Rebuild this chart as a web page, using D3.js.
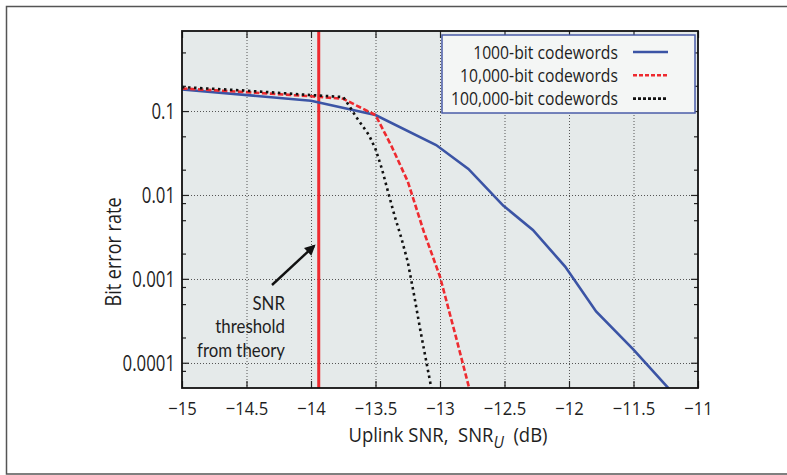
<!DOCTYPE html>
<html>
<head>
<meta charset="utf-8">
<script src="https://cdn.jsdelivr.net/npm/d3@7"></script>
<style>
  html, body { margin: 0; padding: 0; background: #fff; }
  svg { display: block; }
  text { font-family: 'Open Sans', 'Noto Sans', sans-serif; fill: #1e1e1e; }
</style>
</head>
<body>
<svg id="chart" width="787" height="475"></svg>
<script>
// ---- data ----
const xTicks = [-15, -14.5, -14, -13.5, -13, -12.5, -12, -11.5, -11];
const yTicks = [0.1, 0.01, 0.001, 0.0001];
const yTickLabels = ["0.1", "0.01", "0.001", "0.0001"];
const yMinorTicks = [0.5, 0.2, 0.05, 0.02, 0.008, 0.005, 0.002, 0.0008, 0.0005, 0.0002, 0.00008];

const seriesNames = ["1000-bit codewords", "10,000-bit codewords", "100,000-bit codewords"];

const blueX = [-15, -14, -13.5, -13.03, -12.78, -12.51, -12.28, -12.03, -11.79, -11.5, -11.22];
const blueY = [0.181, 0.133, 0.0896, 0.0394, 0.0204, 0.00746, 0.00383, 0.0014, 0.000408, 0.000143, 0.000048];

const redX = [-15, -14.5, -14, -13.75, -13.5, -13.375, -13.25, -13.125, -13, -12.875, -12.75];
const redY = [0.186, 0.168, 0.150, 0.140, 0.0896, 0.0379, 0.0145, 0.00363, 0.00106, 0.000199, 0.000036];

const blackX = [-15, -14.5, -14, -13.75, -13.7, -13.65, -13.6, -13.55, -13.5, -13.45, -13.4, -13.35, -13.3, -13.25, -13.2, -13.15, -13.1, -13.05];
const blackY = [0.193, 0.175, 0.155, 0.147, 0.113, 0.085, 0.0664, 0.0515, 0.0353, 0.0204, 0.0105, 0.0055, 0.00308, 0.0016, 0.00063, 0.000233, 0.000092, 0.000036];

const thresholdX = -13.94;
const annotationLines = ["SNR", "threshold", "from theory"];

// ---- layout ----
const svg = d3.select("#chart");
const L = 182, R = 698, T = 31, B = 388;

const x = d3.scaleLinear().domain([-15, -11]).range([L, R]);
const y = d3.scaleLog().domain([5e-5, 0.9]).range([B, T]);

// condense text horizontally around its anchor point
function condense(sel, k) {
  sel.each(function () {
    const t = d3.select(this);
    const tx = +t.attr("x") || 0, ty = +t.attr("y") || 0;
    const prev = t.attr("transform") || "";
    t.attr("transform", `${prev} translate(${tx},${ty}) scale(${k},1) translate(${-tx},${-ty})`);
  });
}

// outer frame
svg.append("rect").attr("x", 6.5).attr("y", 6.5).attr("width", 800).attr("height", 467.5)
  .attr("fill", "none").attr("stroke", "#555").attr("stroke-width", 1.5);

// plot background
svg.append("rect").attr("x", L).attr("y", T).attr("width", R - L).attr("height", B - T)
  .attr("fill", "#e5eaea");

// grid
const grid = svg.append("g").attr("stroke", "#555").attr("stroke-width", 1).attr("stroke-dasharray", "1,2");
grid.selectAll("line.gx").data(xTicks.slice(1, -1)).join("line")
  .attr("x1", d => x(d) + 0.5).attr("x2", d => x(d) + 0.5).attr("y1", T).attr("y2", B);
grid.selectAll("line.gy").data(yTicks).join("line")
  .attr("y1", d => Math.round(y(d)) + 0.5).attr("y2", d => Math.round(y(d)) + 0.5).attr("x1", L).attr("x2", R);

// clip
svg.append("clipPath").attr("id", "clip").append("rect")
  .attr("x", L - 4).attr("y", T).attr("width", R - L + 4).attr("height", B - T);

const line = d3.line().x(d => x(d[0])).y(d => y(d[1]));
const zip = (a, b) => a.map((v, i) => [v, b[i]]);

const plot = svg.append("g").attr("clip-path", "url(#clip)");

// threshold line
plot.append("line").attr("x1", x(thresholdX)).attr("x2", x(thresholdX)).attr("y1", T).attr("y2", B)
  .attr("stroke", "#ee2a2f").attr("stroke-width", 3);

plot.append("path").datum(zip(blueX, blueY)).attr("d", line)
  .attr("fill", "none").attr("stroke", "#3b54a5").attr("stroke-width", 2.6);
plot.append("path").datum(zip(redX, redY)).attr("d", line)
  .attr("fill", "none").attr("stroke", "#ee2a2f").attr("stroke-width", 2.6).attr("stroke-dasharray", "5.5,2.5");
plot.append("path").datum(zip(blackX, blackY)).attr("d", line)
  .attr("fill", "none").attr("stroke", "#111").attr("stroke-width", 2.6).attr("stroke-dasharray", "2.5,3.5");

// axes
const fmtX = d => (d < 0 ? "\u2212" : "") + Math.abs(d);
const axB = svg.append("g").attr("transform", `translate(0,${B})`)
  .call(d3.axisBottom(x).tickValues(xTicks).tickFormat(fmtX).tickSize(-7).tickPadding(20));
const axT = svg.append("g").attr("transform", `translate(0,${T})`)
  .call(d3.axisTop(x).tickValues(xTicks).tickFormat("").tickSize(-7));
const axL = svg.append("g").attr("transform", `translate(${L},0)`)
  .call(d3.axisLeft(y).tickValues(yTicks).tickFormat((d, i) => yTickLabels[i]).tickSize(-7).tickPadding(7));
const axLm = svg.append("g").attr("transform", `translate(${L},0)`)
  .call(d3.axisLeft(y).tickValues(yMinorTicks).tickFormat("").tickSize(-4));
const axR = svg.append("g").attr("transform", `translate(${R},0)`)
  .call(d3.axisRight(y).tickValues(yTicks).tickFormat("").tickSize(-7));
const axRm = svg.append("g").attr("transform", `translate(${R},0)`)
  .call(d3.axisRight(y).tickValues(yMinorTicks).tickFormat("").tickSize(-4));

[axB, axT, axL, axLm, axR, axRm].forEach(g => {
  g.select(".domain").remove();
  g.selectAll(".tick line").attr("stroke", "#222").attr("stroke-width", 1.2);
  g.selectAll("text").attr("font-family", null).attr("fill", "#1e1e1e");
});
axB.selectAll(".tick text").attr("dy", null).attr("y", 27).style("font-size", "18.5px");
axL.selectAll(".tick text").attr("dy", "0.36em").style("font-size", "21px");
condense(axB.selectAll(".tick text"), 0.9);
condense(axL.selectAll(".tick text"), 0.8);

// plot border
svg.append("rect").attr("x", L).attr("y", T).attr("width", R - L).attr("height", B - T)
  .attr("fill", "none").attr("stroke", "#111").attr("stroke-width", 1.8);

// legend
const lg = svg.append("g");
lg.append("rect").attr("x", 442).attr("y", 35).attr("width", 253).attr("height", 78)
  .attr("fill", "#f4f6f5").attr("stroke", "#4a5ca8").attr("stroke-width", 1.5);
const legStyles = [
  {c: "#3b54a5", dash: null},
  {c: "#ee2a2f", dash: "4,2"},
  {c: "#111", dash: "3,2"}
];
seriesNames.forEach((n, i) => {
  const cy = 52 + i * 23.3;
  lg.append("text").attr("class", "leg").attr("x", 618).attr("y", cy).attr("dy", "0.36em").attr("text-anchor", "end")
    .style("font-size", "18.5px").text(n);
  lg.append("line").attr("x1", 633).attr("x2", 668).attr("y1", cy).attr("y2", cy)
    .attr("stroke", legStyles[i].c).attr("stroke-width", 2.6)
    .attr("stroke-dasharray", legStyles[i].dash);
});
condense(lg.selectAll("text.leg"), 0.85);

// annotation (Lato: compact line box so the three lines do not collide)
const ann = svg.append("g");
annotationLines.forEach((t, i) => {
  ann.append("text").attr("x", 285).attr("y", 310 + i * 23.5).attr("text-anchor", "end")
    .style("font-family", "Lato, 'Open Sans', sans-serif").style("font-size", "19.5px").text(t);
});
{
  const widest = d3.max(ann.selectAll("text").nodes(), n => n.getComputedTextLength());
  condense(ann.selectAll("text"), Math.min(1, 88 / widest));
}
svg.append("defs").append("marker").attr("id", "arrow").attr("viewBox", "0 0 10 10")
  .attr("refX", 8).attr("refY", 5).attr("markerWidth", 6).attr("markerHeight", 4.5)
  .attr("markerUnits", "strokeWidth").attr("orient", "auto")
  .append("path").attr("d", "M0,0 L10,5 L0,10 Z").attr("fill", "#111");
ann.append("line").attr("x1", 272).attr("y1", 285).attr("x2", 314).attr("y2", 246)
  .attr("stroke", "#111").attr("stroke-width", 2.4).attr("marker-end", "url(#arrow)");

// axis titles
const xl = svg.append("text").attr("x", 448).attr("y", 442).attr("text-anchor", "middle")
  .style("font-size", "20.5px");
xl.append("tspan").text("Uplink SNR,\u00a0\u00a0SNR");
xl.append("tspan").attr("font-style", "italic").style("font-size", "17px").attr("dy", 6).text("U");
xl.append("tspan").attr("dy", -6).text("\u00a0\u00a0(dB)");
condense(xl, 0.9);

const yl = svg.append("text").attr("transform", "translate(121,252) rotate(-90)").attr("text-anchor", "middle")
  .style("font-size", "22px").text("Bit error rate");
condense(yl, 0.82);
</script>
</body>
</html>
